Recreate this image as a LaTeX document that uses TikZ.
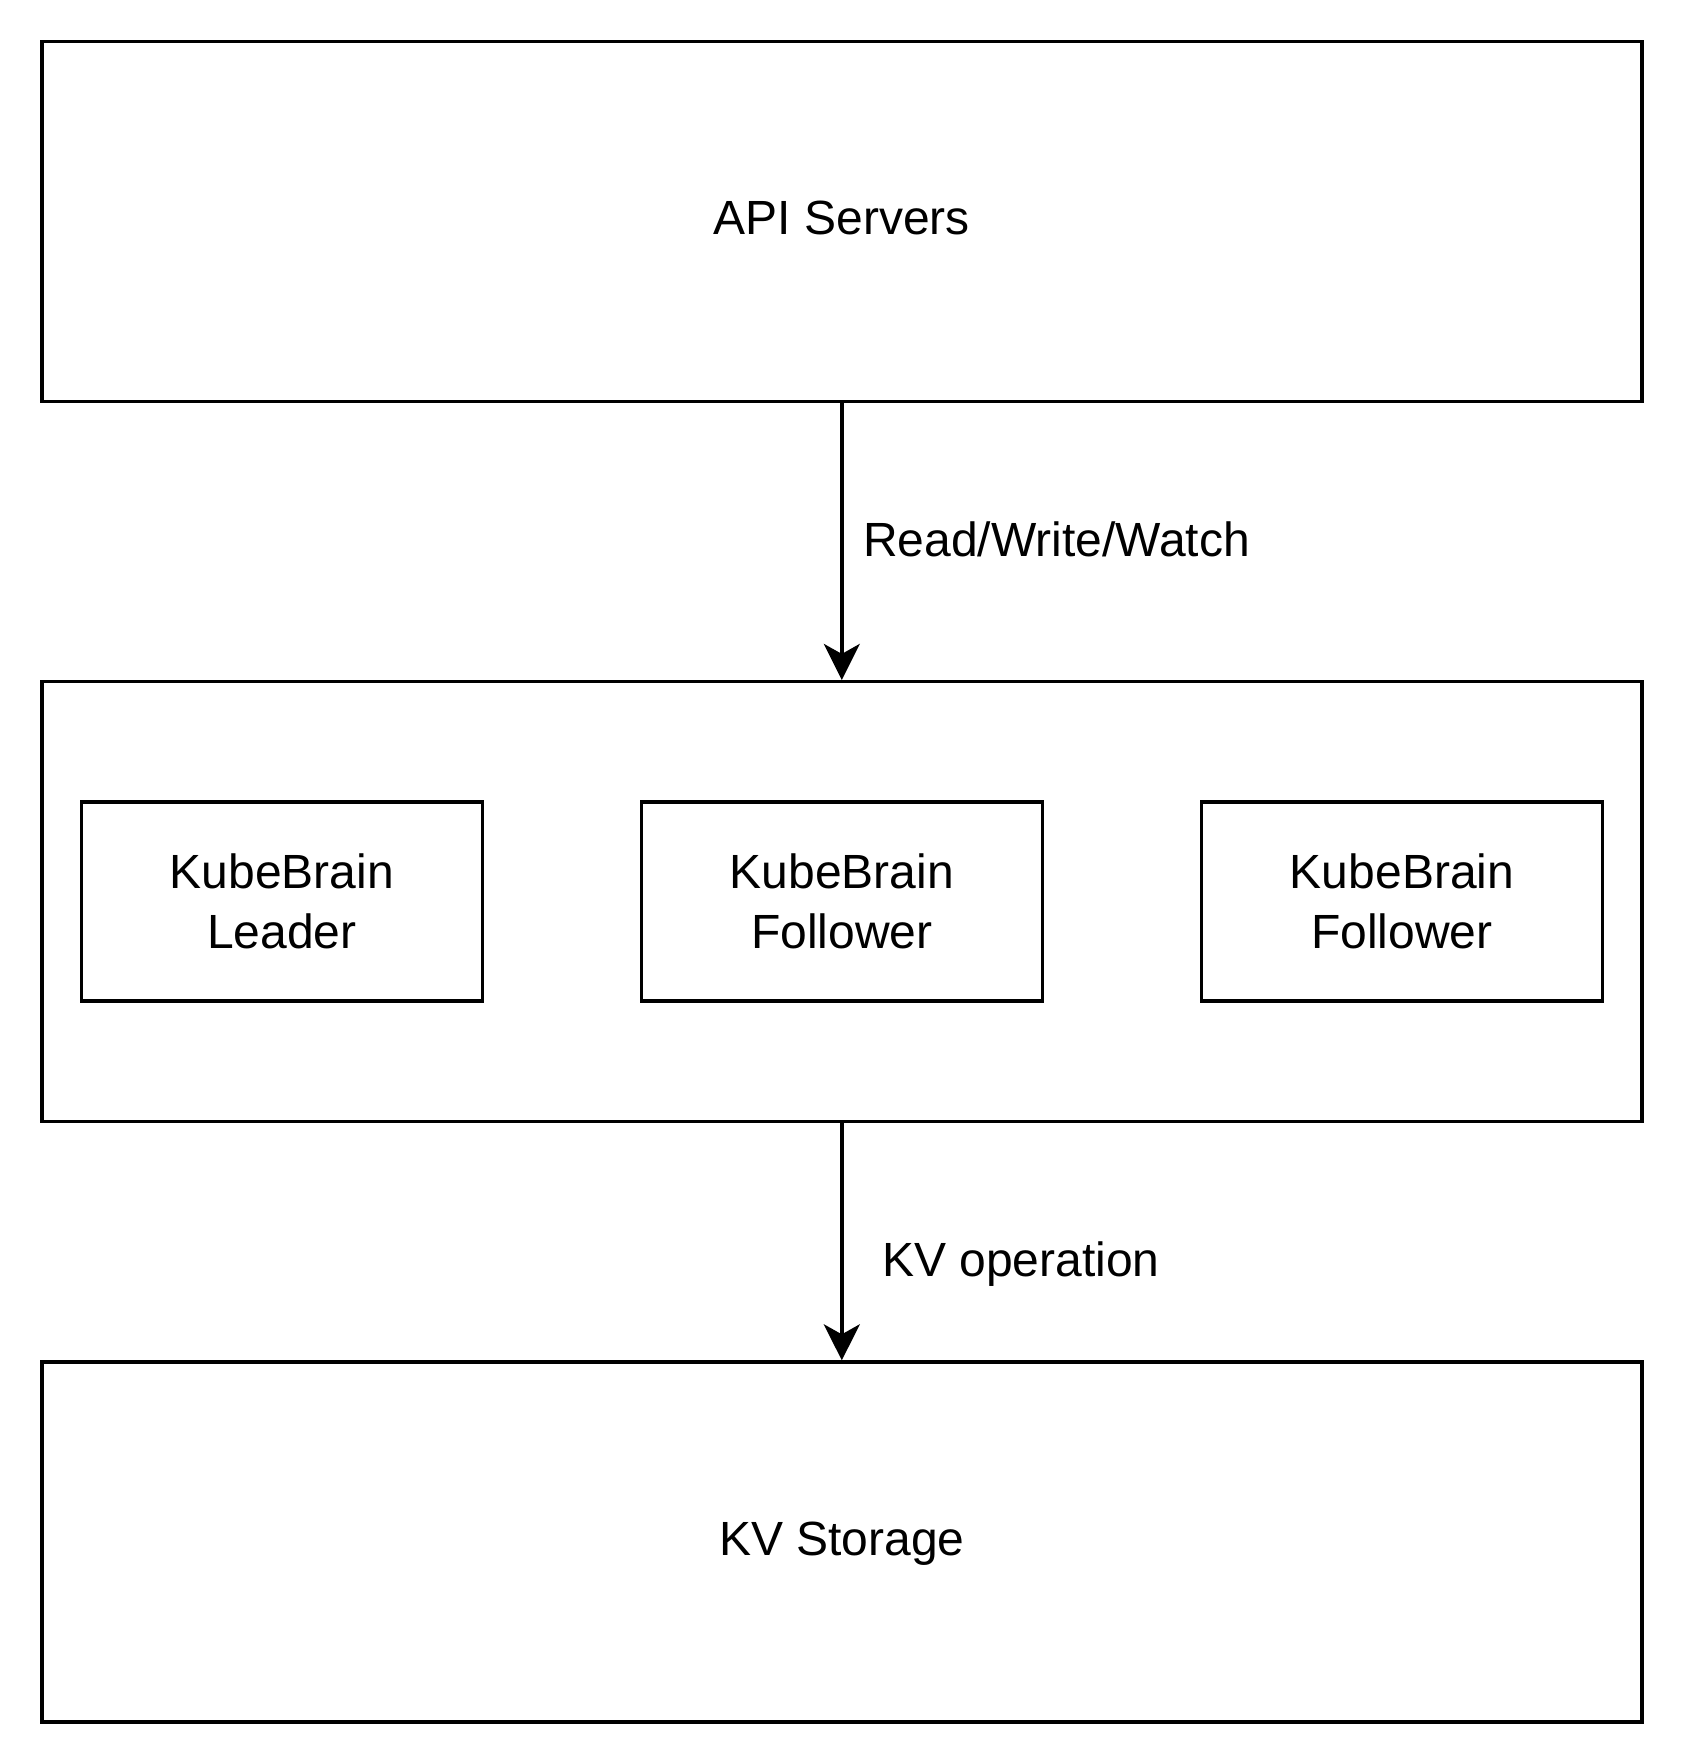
\documentclass[tikz,border=0pt]{standalone}
\usepackage{fontspec}
\setmainfont{Liberation Sans}
\usetikzlibrary{arrows.meta}
\begin{document}
\begin{tikzpicture}[x=1pt,y=-1pt,
  box/.style={draw=black, line width=3.4pt, rectangle, inner sep=0pt, align=center,
    font=\fontsize{48}{60}\selectfont},
  lbl/.style={inner sep=0pt, anchor=west, font=\fontsize{48}{60}\selectfont},
  conn/.style={line width=3.4pt, -{Stealth[length=36pt,width=36pt,inset=10pt]}}]
\useasboundingbox (0,0) rectangle (1684,1764);
\node[box, minimum width=1600pt, minimum height=360pt] (api) at (841.8,221.6) {};
\node[inner sep=0pt, font=\fontsize{48}{60}\selectfont] (apit) at (841.8,218) {API Servers};
\node[box, minimum width=1600pt, minimum height=440pt] (kb) at (841.8,901.6) {};
\node[box, minimum width=1600pt, minimum height=360pt] (kv) at (841.8,1542) {};
\node[inner sep=0pt, font=\fontsize{48}{60}\selectfont] (kvt) at (841.8,1544) {KV Storage};
\node[box, minimum width=401pt, minimum height=199pt] (leader) at (281.8,901.5) {KubeBrain\\Leader};
\node[box, minimum width=401pt, minimum height=199pt] (f1) at (841.9,901.5) {KubeBrain\\Follower};
\node[box, minimum width=401pt, minimum height=199pt] (f2) at (1402,901.5) {KubeBrain\\Follower};
\draw[conn] (api.south) -- (kb.north);
\draw[conn] (kb.south) -- (kv.north);
\node[lbl] (l1) at (863,539) {Read/Write/Watch};
\node[lbl] (l2) at (882,1264) {KV operation};
\end{tikzpicture}
\end{document}
